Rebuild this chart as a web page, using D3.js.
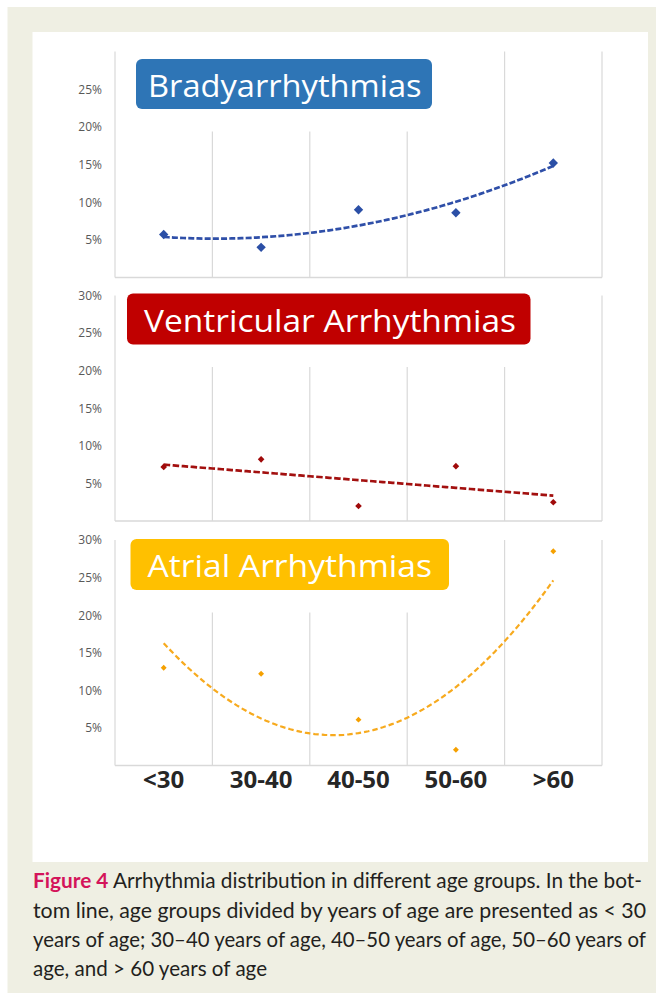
<!DOCTYPE html>
<html>
<head>
<meta charset="utf-8">
<script src="https://cdn.jsdelivr.net/npm/d3@7"></script>
<style>
  html, body { margin: 0; padding: 0; background: #ffffff; }
  svg { display: block; }
</style>
</head>
<body>
<script>
// ---------------- DATA ----------------
const categories = ["<30", "30-40", "40-50", "50-60", ">60"];
const panelTitles = ["Bradyarrhythmias", "Ventricular Arrhythmias", "Atrial Arrhythmias"];
const bradyValues = [5.7, 4.0, 9.0, 8.6, 15.2];
const ventricularValues = [7.2, 8.2, 2.0, 7.3, 2.5];
const atrialValues = [13.0, 12.2, 6.1, 2.1, 28.5];
const trendOrders = [2, 1, 2];
const yTicksTop = [5, 10, 15, 20, 25];
const yTicksOther = [5, 10, 15, 20, 25, 30];
const captionLabel = "Figure 4";
const captionLines = [
  " Arrhythmia distribution in different age groups. In the bot-",
  "tom line, age groups divided by years of age are presented as < 30",
  "years of age; 30\u201340 years of age, 40\u201350 years of age, 50\u201360 years of",
  "age, and > 60 years of age"
];

// ---------------- LAYOUT / STYLE ----------------
const W = 664, H = 1001;
const seriesList = [bradyValues, ventricularValues, atrialValues];
const tickList = [yTicksTop, yTicksOther, yTicksOther];
const panels = [
  { top: 51.5, bottom: 277.5, box: { x: 136, y: 59, w: 296, h: 50 }, tx: 148, tw: 273.6, base: 96.7,
    boxColor: "#2E75B6", marker: "#2B4FA6", line: "#2F4FA8", msize: 56, dash: "6,2.2", lw: 2.7 },
  { top: 295.5, bottom: 521, box: { x: 127, y: 293.5, w: 403.5, h: 51 }, tx: 144, tw: 372, base: 332.3,
    boxColor: "#C00000", marker: "#A00A0A", line: "#A3100F", msize: 28, dash: "6.5,2.5", lw: 2.7 },
  { top: 540, bottom: 765.5, box: { x: 130.5, y: 539, w: 318.5, h: 51 }, tx: 147.5, tw: 284.5, base: 576.7,
    boxColor: "#FFC000", marker: "#F5A000", line: "#F7AA1E", msize: 22, dash: "5.5,3", lw: 2.2 }
];

const svg = d3.select("body").append("svg").attr("width", W).attr("height", H);
svg.append("rect").attr("x", 0).attr("y", 0).attr("width", W).attr("height", H).attr("fill", "#ffffff");
svg.append("rect").attr("x", 7.5).attr("y", 7).attr("width", 648.5).attr("height", 986).attr("fill", "#EFEFE3");
svg.append("rect").attr("x", 32.5).attr("y", 32).attr("width", 615.5).attr("height", 830).attr("fill", "#ffffff");

const x = d3.scaleBand().domain(categories).range([115, 602]).paddingInner(0).paddingOuter(0);
const bw = x.bandwidth();
const cx = c => x(c) + bw / 2;

function polyFit(values, order) {
  // least squares fit of y = sum a_k * t^k, t = 1..n (trendline)
  const n = order + 1;
  const A = Array.from({ length: n }, () => new Array(n + 1).fill(0));
  values.forEach((v, i) => {
    const t = i + 1;
    for (let r = 0; r < n; r++) {
      for (let c = 0; c < n; c++) A[r][c] += Math.pow(t, r + c);
      A[r][n] += v * Math.pow(t, r);
    }
  });
  for (let i = 0; i < n; i++) {
    let p = i;
    for (let r = i + 1; r < n; r++) { if (Math.abs(A[r][i]) > Math.abs(A[p][i])) p = r; }
    const tmp = A[i]; A[i] = A[p]; A[p] = tmp;
    for (let r = 0; r < n; r++) {
      if (r === i) continue;
      const f = A[r][i] / A[i][i];
      for (let c = i; c <= n; c++) A[r][c] -= f * A[i][c];
    }
  }
  const coef = A.map((row, i) => row[n] / row[i]);
  return t => coef.reduce((s, a, k) => s + a * Math.pow(t, k), 0);
}

panels.forEach((p, pi) => {
  const values = seriesList[pi];
  const g = svg.append("g");
  const y = d3.scaleLinear().domain([0, 30]).range([p.bottom, p.top]);

  // vertical gridlines at category boundaries
  const bounds = categories.map(c => x(c)).concat([x(categories[categories.length - 1]) + bw]);
  const maskL = p.box.x - 10, maskR = p.box.x + p.box.w + 25, maskB = p.box.y + p.box.h + 22.5;
  bounds.forEach((bx, i) => {
    const edge = (i === 0 || i === bounds.length - 1);
    const hidden = !edge && bx > maskL && bx < maskR;
    g.append("line")
      .attr("x1", bx).attr("x2", bx)
      .attr("y1", hidden ? maskB : p.top).attr("y2", p.bottom)
      .attr("stroke", "#D9D9D9").attr("stroke-width", 1.2);
  });
  // bottom axis line
  g.append("line").attr("x1", 115).attr("x2", 602).attr("y1", p.bottom).attr("y2", p.bottom)
    .attr("stroke", "#D9D9D9").attr("stroke-width", 1.4);

  // y axis labels
  const ya = g.append("g").attr("transform", "translate(102,0)")
    .call(d3.axisLeft(y).tickValues(tickList[pi]).tickFormat(d => d + "%").tickSize(0).tickPadding(0));
  ya.select(".domain").remove();
  ya.selectAll("text").attr("font-family", "'Open Sans', sans-serif").attr("font-size", 12)
    .attr("fill", "#595959");

  // trendline
  const f = polyFit(values, trendOrders[pi]);
  const ts = d3.range(1, 5.0001, 0.05);
  const line = d3.line().x(t => cx(categories[0]) + (t - 1) * bw).y(t => y(f(t)));
  g.append("path").datum(ts).attr("d", line).attr("fill", "none")
    .attr("stroke", p.line).attr("stroke-width", p.lw).attr("stroke-dasharray", p.dash);

  // markers
  g.selectAll("path.pt").data(values).enter().append("path").attr("class", "pt")
    .attr("d", d3.symbol(d3.symbolDiamond2, p.msize))
    .attr("transform", (d, i) => `translate(${cx(categories[i])},${y(d)})`)
    .attr("fill", p.marker);

  // title box
  g.append("rect").attr("x", p.box.x).attr("y", p.box.y).attr("width", p.box.w).attr("height", p.box.h)
    .attr("rx", 6).attr("ry", 6).attr("fill", p.boxColor);
  g.append("text").attr("x", p.tx).attr("y", p.base).text(panelTitles[pi])
    .attr("font-family", "'Open Sans', sans-serif").attr("font-size", 31)
    .attr("fill", "#ffffff").attr("textLength", p.tw).attr("lengthAdjust", "spacingAndGlyphs");

  // x axis labels on last panel
  if (pi === panels.length - 1) {
    const xa = g.append("g").attr("transform", `translate(0,${p.bottom + 5.5})`)
      .call(d3.axisBottom(x).tickSize(0).tickPadding(0));
    xa.select(".domain").remove();
    xa.selectAll("text").attr("font-family", "'Open Sans', sans-serif").attr("font-size", 24)
      .attr("font-weight", "bold").attr("fill", "#262626");
  }
});

// caption
const capBase = [888.3, 917.8, 947.2, 975.5];
const capWidths = [609, 613, 613, 234];
captionLines.forEach((ln, i) => {
  const t = svg.append("text").attr("x", 33).attr("y", capBase[i])
    .attr("font-family", "Lato, sans-serif").attr("font-size", 21).attr("fill", "#231F20")
    .attr("textLength", capWidths[i]).attr("lengthAdjust", "spacingAndGlyphs")
    .attr("xml:space", "preserve").style("white-space", "pre");
  if (i === 0) {
    t.append("tspan").attr("font-weight", "bold").attr("fill", "#D4145A").text(captionLabel);
    t.append("tspan").text(ln);
  } else {
    t.text(ln);
  }
});
</script>
</body>
</html>
